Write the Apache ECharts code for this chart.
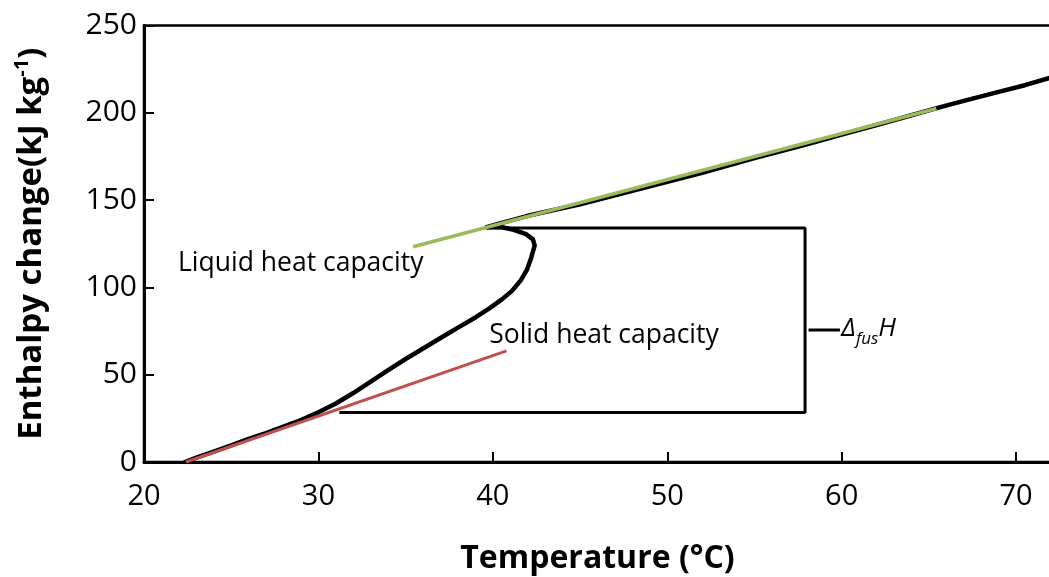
<!DOCTYPE html>
<html>
<head>
<meta charset="utf-8">
<script src="https://cdn.jsdelivr.net/npm/echarts@6/dist/echarts.min.js"></script>
<style>html,body{margin:0;padding:0;background:#fff}#c{width:1049px;height:577px}</style>
</head>
<body>
<div id="c"></div>
<script>
// Measured enthalpy curve (temperature °C, enthalpy kJ/kg)
const curveT = [22.35,23.0,24.0,25.0,26.0,27.0,28.0,29.0,30.0,31.0,32.0,33.0,34.0,35.0,36.0,37.0,38.0,39.0,39.8,40.5,41.1,41.6,41.95,42.2,42.4,42.3,41.9,41.2,40.4,39.64,40.3,42.0,45.0,48.0,50.0,52.0,55.0,58.0,60.0,62.0,64.0,65.5,67.0,69.0,70.5,72.0];
const curveH = [0,2.5,6,9.5,13.3,16.5,20.3,24,28.5,33.5,39.5,46,52.6,59,65,71,77,82.8,88,93,98,104,110,117,124,127.5,130.5,133,134.7,134.5,136.4,141,147.6,155.3,160.5,165.6,174,182,187.5,193,198.6,202.8,206.8,212,215.8,220.2];
// Liquid heat-capacity fit line
const liquidT = [35.43, 65.43];
const liquidH = [123.3, 202.5];
// Solid heat-capacity fit line
const solidT = [22.4, 40.78];
const solidH = [0, 63.6];
// Enthalpy of fusion bracket
const bracketT = [39.64, 57.9, 57.9, 31.2];
const bracketH = [134.0, 134.0, 28.3, 28.3];
const bracketTickT = [58.1, 59.9];
const bracketTickH = [75.6, 75.6];
// Tick labels
const xTicks = [20,30,40,50,60,70];
const yTicks = [0,50,100,150,200,250];

const zip = (a,b) => a.map((v,i)=>[v,b[i]]);
const FONT = '"Open Sans", "Liberation Sans", sans-serif';

const chart = echarts.init(document.getElementById('c'));
chart.setOption({
  animation: false,
  backgroundColor: '#fff',
  grid: {left: 144, top: 25.5, right: -2, bottom: 115, show: true, borderColor: '#000', borderWidth: 2.5,
    containLabel: false, outerBoundsMode: 'none'},
  xAxis: {
    type: 'value', min: 20, max: 72, interval: 10,
    name: 'Temperature (°C)', nameLocation: 'middle', nameGap: 81,
    nameTextStyle: {fontFamily: FONT, fontSize: 32, fontWeight: 'bold', color: '#000'},
    axisLine: {show: true, lineStyle: {color: '#000', width: 3}},
    axisTick: {show: true, inside: true, length: 10, lineStyle: {color: '#000', width: 2}},
    axisLabel: {fontFamily: FONT, fontSize: 29, color: '#000', margin: 20,
      formatter: v => xTicks.includes(v) ? String(v) : ''},
    splitLine: {show: false}
  },
  yAxis: {
    type: 'value', min: 0, max: 250, interval: 50,
    name: 'Enthalpy change(kJ kg{sup|-1})', nameLocation: 'middle', nameGap: 92, nameRotate: 90,
    nameTextStyle: {fontFamily: FONT, fontSize: 33, fontWeight: 'bold', color: '#000', lineHeight: 40,
      rich: {sup: {fontFamily: FONT, fontSize: 20, fontWeight: 'bold', color: '#000', verticalAlign: 'top', lineHeight: 40}}},
    axisLine: {show: true, lineStyle: {color: '#000', width: 3}},
    axisTick: {show: true, inside: true, length: 10, lineStyle: {color: '#000', width: 2}},
    axisLabel: {fontFamily: FONT, fontSize: 30, color: '#000', margin: 7,
      formatter: v => yTicks.includes(v) ? String(v) : ''},
    splitLine: {show: false}
  },
  series: [
    {type: 'line', data: zip(bracketT, bracketH), symbol: 'none', lineStyle: {color: '#000', width: 3}, z: 2},
    {type: 'line', data: zip(bracketTickT, bracketTickH), symbol: 'none', lineStyle: {color: '#000', width: 3}, z: 2},
    {type: 'line', data: zip(curveT, curveH), symbol: 'none', lineStyle: {color: '#000', width: 4.5, join: 'round', cap: 'round'}, z: 3},
    {type: 'line', data: zip(liquidT, liquidH), symbol: 'none', lineStyle: {color: '#9BBB59', width: 3.5}, z: 4},
    {type: 'line', data: zip(solidT, solidH), symbol: 'none', lineStyle: {color: '#C0504D', width: 3}, z: 4},
    {type: 'scatter', symbolSize: 0, z: 5, itemStyle: {opacity: 1},
      data: [
        {value: [21.95, 113.9], label: {formatter: 'Liquid heat capacity'}},
        {value: [39.79, 72.2], label: {formatter: 'Solid heat capacity'}},
        {value: [59.98, 76.2], label: {formatter: '{d|Δ}{s|fus}{d|H}'}}
      ],
      label: {show: true, position: 'inside', align: 'left', verticalAlign: 'middle', opacity: 1,
        fontFamily: FONT, fontSize: 26.5, color: '#000',
        rich: {
          d: {fontFamily: FONT, fontSize: 26, fontStyle: 'italic', color: '#000', lineHeight: 38},
          s: {fontFamily: FONT, fontSize: 17, fontStyle: 'italic', color: '#000', verticalAlign: 'bottom', lineHeight: 38}
        }}
    }
  ]
});
</script>
</body>
</html>
